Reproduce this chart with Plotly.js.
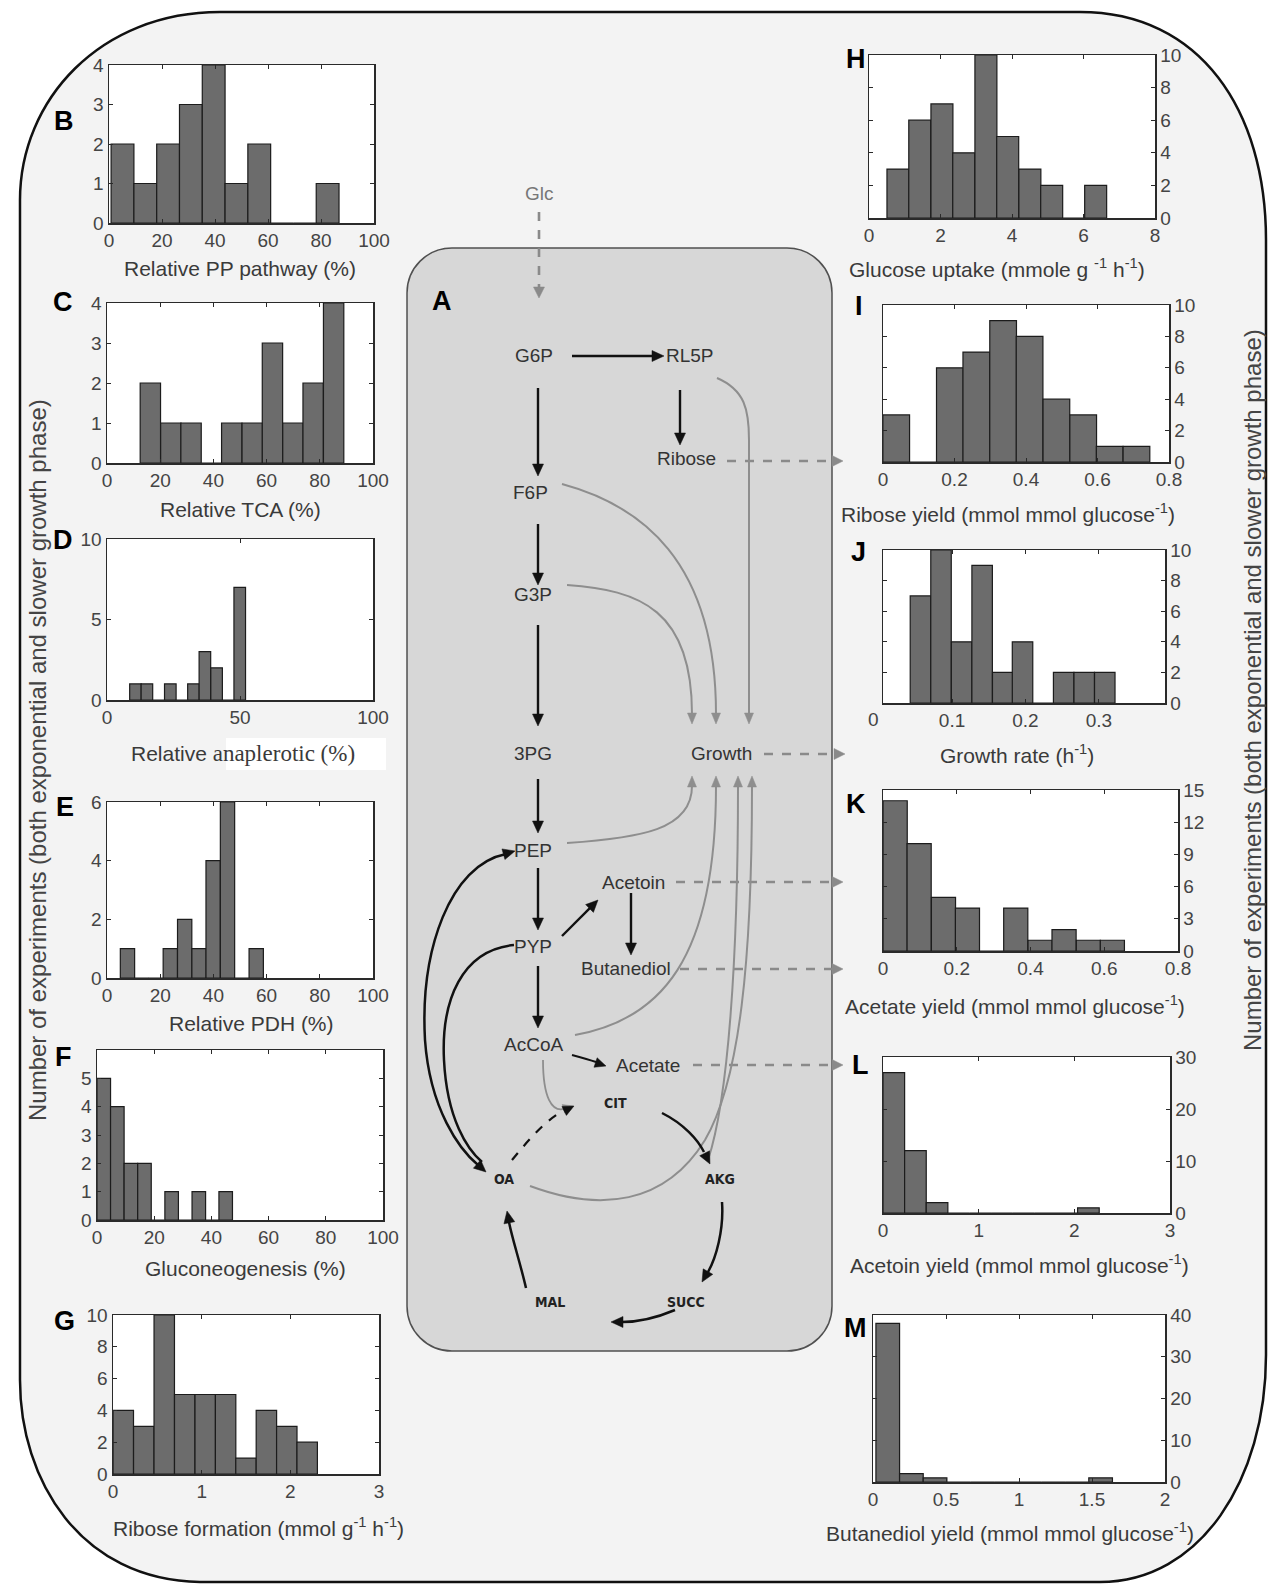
<!DOCTYPE html>
<html><head><meta charset="utf-8">
<script src="https://cdn.plot.ly/plotly-3.0.1.min.js"></script>
<style>html,body{margin:0;padding:0;background:#fff;overflow:hidden}#chart{width:1276px;height:1587px}</style>
</head><body><div id="chart"></div>
<script>
// ---------------- DATA (bin centres and counts) ----------------
const ppCenters   = [5.1, 13.7, 22.3, 30.9, 39.5, 48.1, 56.7, 65.3, 73.9, 82.5];
const ppCounts    = [2, 1, 2, 3, 4, 1, 2, 0, 0, 1];
const tcaCenters  = [16.3, 24.0, 31.6, 39.3, 46.9, 54.6, 62.2, 69.9, 77.5, 85.2];
const tcaCounts   = [2, 1, 1, 0, 1, 1, 3, 1, 2, 4];
const anaCenters  = [10.7, 15.0, 19.4, 23.8, 28.1, 32.5, 36.8, 41.2, 45.6, 49.9];
const anaCounts   = [1, 1, 0, 1, 0, 1, 3, 2, 0, 7];
const pdhCenters  = [7.7, 13.1, 18.4, 23.8, 29.2, 34.6, 39.9, 45.3, 50.7, 56.1];
const pdhCounts   = [1, 0, 0, 1, 2, 1, 4, 6, 0, 1];
const gngCenters  = [2.37, 7.11, 11.85, 16.6, 21.3, 26.1, 30.8, 35.6, 40.3, 45.0];
const gngCounts   = [5, 4, 2, 2, 0, 1, 0, 1, 0, 1];
const ribFormCenters = [0.116, 0.347, 0.578, 0.809, 1.04, 1.27, 1.50, 1.73, 1.96, 2.19];
const ribFormCounts  = [4, 3, 10, 5, 5, 5, 1, 4, 3, 2];
const glcCenters  = [0.81, 1.42, 2.04, 2.65, 3.27, 3.88, 4.50, 5.11, 5.73, 6.34];
const glcCounts   = [3, 6, 7, 4, 10, 5, 3, 2, 0, 2];
const ribYCenters = [0.037, 0.112, 0.187, 0.261, 0.336, 0.410, 0.485, 0.560, 0.634, 0.709];
const ribYCounts  = [3, 0, 6, 7, 9, 8, 4, 3, 1, 1];
const muCenters   = [0.057, 0.085, 0.113, 0.141, 0.169, 0.196, 0.224, 0.252, 0.280, 0.308];
const muCounts    = [7, 10, 4, 9, 2, 4, 0, 2, 2, 2];
const acetCenters = [0.033, 0.098, 0.164, 0.229, 0.295, 0.360, 0.426, 0.491, 0.557, 0.622];
const acetCounts  = [14, 10, 5, 4, 0, 4, 1, 2, 1, 1];
const actnCenters = [0.113, 0.339, 0.565, 0.791, 1.017, 1.243, 1.469, 1.695, 1.921, 2.147];
const actnCounts  = [27, 12, 2, 0, 0, 0, 0, 0, 0, 1];
const btdCenters  = [0.101, 0.263, 0.425, 0.587, 0.749, 0.911, 1.073, 1.235, 1.397, 1.559];
const btdCounts   = [38, 2, 1, 0, 0, 0, 0, 0, 0, 1];

const panelLetters = ['B','C','D','E','F','G','H','I','J','K','L','M'];
const xTitles = [
  'Relative PP pathway (%)',
  'Relative TCA (%)',
  'Relative <span style="font-family:Liberation Serif;font-size:23px">anaplerotic (%)</span>',
  'Relative PDH (%)',
  'Gluconeogenesis (%)',
  'Ribose formation (mmol g<sup>-1</sup> h<sup>-1</sup>)',
  'Glucose uptake (mmole g <sup>-1</sup> h<sup>-1</sup>)',
  'Ribose yield (mmol mmol glucose<sup>-1</sup>)',
  'Growth rate (h<sup>-1</sup>)',
  'Acetate yield (mmol mmol glucose<sup>-1</sup>)',
  'Acetoin yield (mmol mmol glucose<sup>-1</sup>)',
  'Butanediol yield (mmol mmol glucose<sup>-1</sup>)'
];
const xTickVals = [
  [0,20,40,60,80,100],[0,20,40,60,80,100],[0,50,100],[0,20,40,60,80,100],[0,20,40,60,80,100],[0,1,2,3],
  [0,2,4,6,8],[0,0.2,0.4,0.6,0.8],[0.1,0.2,0.3],[0,0.2,0.4,0.6,0.8],[0,1,2,3],[0,0.5,1,1.5,2]
];
const xRanges = [[0,100],[0,100],[0,100],[0,100],[0,100],[0,3],[0,8],[0,0.8],[0.006,0.39],[0,0.8],[0,3],[0,2]];
const yTickVals = [
  [0,1,2,3,4],[0,1,2,3,4],[0,5,10],[0,2,4,6],[0,1,2,3,4,5],[0,2,4,6,8,10],
  [0,2,4,6,8,10],[0,2,4,6,8,10],[0,2,4,6,8,10],[0,3,6,9,12,15],[0,10,20,30],[0,10,20,30,40]
];
const yRanges = [[0,4],[0,4],[0,10],[0,6],[0,6],[0,10],[0,10],[0,10],[0,10],[0,15],[0,30],[0,40]];
const yAxisTitle = 'Number of experiments (both exponential and slower growth phase)';

const seriesCenters = [ppCenters,tcaCenters,anaCenters,pdhCenters,gngCenters,ribFormCenters,
                       glcCenters,ribYCenters,muCenters,acetCenters,actnCenters,btdCenters];
const seriesCounts  = [ppCounts,tcaCounts,anaCounts,pdhCounts,gngCounts,ribFormCounts,
                       glcCounts,ribYCounts,muCounts,acetCounts,actnCounts,btdCounts];

// ---------------- LAYOUT GEOMETRY (page pixels) ----------------
const W = 1276, H = 1587;
const FONT = 'Liberation Sans, Arial, sans-serif';
const X = px => px / W;
const Y = py => 1 - py / H;
const boxes = [
  [109,374,65,223],[107,373,303,463],[107,373,539,700],[107,373,802,978],[97,383,1050,1220],[113,379,1315,1474],
  [869,1155,55,218],[883,1169,305,462],[883,1165,550,703],[883,1178,790,951],[883,1170,1057,1213],[873,1165,1315,1482]
];
const titlePos = [[240,268],[240,509],[243,754],[251,1023],[245,1268],[258,1527],
                  [997,268],[1008,513],[1017,754],[1015,1005],[1020,1264],[1010,1532]];
const letterPos = [[64,121],[63,302],[63,540],[65,807],[63,1057],[64,1321],
                   [856,59],[859,306],[858,552],[856,804],[860,1065],[855,1328]];

function conv(str) {
  const t = str.trim().split(/[\s,]+/);
  const out = []; let i = 0;
  while (i < t.length) {
    if (/^[A-Za-z]$/.test(t[i])) { out.push(t[i]); i++; }
    else { out.push(X(+t[i]).toFixed(5) + ',' + Y(+t[i+1]).toFixed(5)); i += 2; }
  }
  return out.join(' ');
}

const traces = [];
const layout = {
  width: W, height: H, margin: {l:0,r:0,t:0,b:0},
  paper_bgcolor: '#ffffff', plot_bgcolor: 'rgba(0,0,0,0)',
  showlegend: false, bargap: 0, font: {family: FONT, color: '#333'},
  shapes: [], annotations: []
};
function text(txt, x, y, size, color, family, angle) {
  layout.annotations.push({xref:'paper', yref:'paper', x:X(x), y:Y(y), xanchor:'center', yanchor:'middle',
    text:txt, showarrow:false, textangle: angle || 0,
    font:{family:family || FONT, size:size || 19, color:color || '#333'}});
}

// background frame
layout.shapes.push({type:'path', xref:'paper', yref:'paper', layer:'below',
  path: conv('M 220 12 L 1080 12 C 1200 12 1266 110 1266 240 L 1266 1355 C 1266 1480 1200 1582 1100 1582 L 200 1582 C 80 1580 20 1480 20 1380 L 20 200 C 20 100 100 12 220 12 Z'),
  fillcolor:'#f3f3f3', line:{color:'#111', width:2.5}});
// central box
layout.shapes.push({type:'path', xref:'paper', yref:'paper', layer:'below',
  path: conv('M 452 248 L 787 248 C 812 248 832 268 832 293 L 832 1306 C 832 1331 812 1351 787 1351 L 452 1351 C 427 1351 407 1331 407 1306 L 407 293 C 407 268 427 248 452 248 Z'),
  fillcolor:'#d7d7d7', line:{color:'#505050', width:1.5}});
// white area behind "anaplerotic (%)"
layout.shapes.push({type:'rect', xref:'paper', yref:'paper', layer:'below',
  x0:X(226), x1:X(386), y0:Y(770), y1:Y(738), fillcolor:'#ffffff', line:{width:0}});

seriesCenters.forEach((c, i) => {
  const s = i === 0 ? '' : String(i + 1);
  const b = boxes[i];
  const right = i >= 6;
  const w = (c[c.length-1] - c[0]) / (c.length - 1);
  traces.push({type:'bar', x:c, y:seriesCounts[i], width:c.map(() => w),
    xaxis:'x'+s, yaxis:'y'+s, hoverinfo:'skip',
    marker:{color:'#6c6c6c', line:{color:'#1c1c1c', width:1.2}}});
  layout.shapes.push({type:'rect', xref:'paper', yref:'paper', layer:'below',
    x0:X(b[0]), x1:X(b[1]), y0:Y(b[3]), y1:Y(b[2]), fillcolor:'#ffffff', line:{width:0}});
  const common = {showline:true, mirror:'ticks', linecolor:'#2a2a2a', linewidth:1.5, ticks:'inside',
    ticklen:4, tickcolor:'#2a2a2a', showgrid:false, zeroline:false, fixedrange:true,
    tickfont:{family:FONT, size:19, color:'#444'}};
  layout['xaxis'+s] = Object.assign({}, common, {domain:[X(b[0]), X(b[1])], anchor:'y'+s,
    range:xRanges[i], tickvals:xTickVals[i], tickmode:'array'});
  layout['yaxis'+s] = Object.assign({}, common, {domain:[Y(b[3]), Y(b[2])], anchor:'x'+s,
    range:yRanges[i], tickvals:yTickVals[i], tickmode:'array', side: right ? 'right' : 'left'});
  text(xTitles[i], titlePos[i][0], titlePos[i][1], 21, '#3a3a3a');
  text('<b>'+panelLetters[i]+'</b>', letterPos[i][0], letterPos[i][1], 27, '#000');
});
// growth-rate axis origin label sits just left of its box
text('0', 873, 719, 19, '#444');

// y-axis side titles
text(yAxisTitle, 37, 760, 24, '#444', FONT, -90);
text(yAxisTitle, 1253, 690, 24, '#444', FONT, -90);

// ---------------- PATHWAY DIAGRAM (panel A) ----------------
function head(tipX, tipY, fromX, fromY, color, len, hw) {
  const dx = tipX - fromX, dy = tipY - fromY, L = Math.hypot(dx, dy) || 1;
  const ux = dx / L, uy = dy / L;
  const bx = tipX - ux * len, by = tipY - uy * len;
  const p = 'M ' + tipX + ' ' + tipY + ' L ' + (bx - uy * hw) + ' ' + (by + ux * hw) +
            ' L ' + (bx + uy * hw) + ' ' + (by - ux * hw) + ' Z';
  layout.shapes.push({type:'path', xref:'paper', yref:'paper', layer:'above', path:conv(p),
    fillcolor:color, line:{color:color, width:0.5}});
}
function curve(p, color, width, dash) {
  layout.shapes.push({type:'path', xref:'paper', yref:'paper', layer:'above', path:conv(p),
    line:{color:color, width:width, dash:dash || 'solid'}});
}
function straight(x0, y0, x1, y1) {
  const L = Math.hypot(x1 - x0, y1 - y0);
  const ex = x1 - (x1 - x0) / L * 8, ey = y1 - (y1 - y0) / L * 8;
  curve('M '+x0+' '+y0+' L '+ex+' '+ey, '#111', 2.4);
  head(x1, y1, x0, y0, '#111', 12, 5.5);
}
function dashedArrow(x0, y0, x1, y1) {
  const L = Math.hypot(x1 - x0, y1 - y0);
  const ex = x1 - (x1 - x0) / L * 8, ey = y1 - (y1 - y0) / L * 8;
  curve('M '+x0+' '+y0+' L '+ex+' '+ey, '#8a8a8a', 2.6, 'dash');
  head(x1, y1, x0, y0, '#8a8a8a', 11, 5.5);
}

text('<b>A</b>', 442, 301, 27, '#000');
text('Glc', 539, 194, 19, '#777');
text('G6P', 534, 356); text('RL5P', 690, 356); text('Ribose', 687, 458);
text('F6P', 530, 493); text('G3P', 533, 594); text('3PG', 533, 754);
text('Growth', 721, 754); text('PEP', 533, 850); text('Acetoin', 633, 882);
text('PYP', 533, 946); text('Butanediol', 626, 968); text('AcCoA', 533, 1044);
text('Acetate', 648, 1065);
const SMALL = 'DejaVu Sans Condensed, DejaVu Sans, sans-serif';
text('<b>CIT</b>', 615, 1103, 14, '#222', SMALL); text('<b>OA</b>', 504, 1179, 14, '#222', SMALL);
text('<b>AKG</b>', 720, 1179, 14, '#222', SMALL); text('<b>MAL</b>', 550, 1302, 14, '#222', SMALL);
text('<b>SUCC</b>', 686, 1302, 14, '#222', SMALL);

// dashed grey arrows
dashedArrow(539, 212, 539, 298);
dashedArrow(727, 461, 843, 461);
dashedArrow(764, 754, 845, 754);
dashedArrow(676, 882, 843, 882);
dashedArrow(680, 969, 843, 969);
dashedArrow(693, 1065, 843, 1065);

// black straight arrows
straight(572, 356, 664, 356);
straight(680, 390, 680, 445);
straight(538, 388, 538, 476);
straight(538, 524, 538, 585);
straight(538, 625, 538, 726);
straight(538, 779, 538, 833);
straight(538, 868, 538, 930);
straight(538, 966, 538, 1028);
straight(562, 936, 598, 900);
straight(631, 893, 631, 955);

// grey curves to Growth
const G = '#8e8e8e';
curve('M 717 378 C 745 390 749 410 749 440 L 749 714', G, 2); head(749, 724, 749, 700, G, 11, 4.5);
curve('M 562 484 C 640 505 716 560 716 714', G, 2); head(716, 724, 716, 700, G, 11, 4.5);
curve('M 567 585 C 640 590 692 610 692 714', G, 2); head(692, 724, 692, 700, G, 11, 4.5);
curve('M 567 843 C 640 838 692 830 692 786', G, 2); head(692, 776, 692, 800, G, 11, 4.5);
curve('M 575 1035 C 660 1020 716 960 716 786', G, 2); head(716, 776, 716, 800, G, 11, 4.5);
curve('M 708 1160 C 728 1100 738 960 738 786', G, 2); head(738, 776, 738, 800, G, 11, 4.5);
curve('M 530 1186 C 600 1212 665 1205 705 1140 C 740 1080 752 960 752 786', G, 2); head(752, 776, 752, 800, G, 11, 4.5);
curve('M 543 1060 C 543 1098 552 1112 564 1109', G, 1.8); head(573, 1106, 556, 1111, G, 10, 4.5);

// black cycle / anaplerotic curves
const K = '#111';
curve('M 506 854 C 450 865 420 950 425 1040 C 430 1110 460 1150 478 1165', K, 2.5);
head(515, 851, 490, 858, K, 12, 5.5); head(486, 1172, 468, 1156, K, 12, 5.5);
curve('M 514 945 C 462 950 441 1000 444 1060 C 447 1120 468 1150 482 1162', K, 2.5);
curve('M 512 1160 C 530 1138 548 1118 565 1110', K, 2.2, 'dash'); head(574, 1106, 560, 1113, K, 11, 5);
curve('M 662 1113 C 684 1124 698 1140 704 1152', K, 2.5); head(710, 1164, 702, 1148, K, 12, 5.5);
curve('M 722 1202 C 724 1230 716 1258 708 1272', K, 2.5); head(702, 1282, 710, 1268, K, 12, 5.5);
curve('M 675 1310 C 656 1318 636 1322 622 1322', K, 2.5); head(611, 1322, 626, 1322, K, 12, 5.5);
curve('M 526 1288 C 520 1262 512 1238 509 1222', K, 2.5); head(507, 1211, 510, 1226, K, 12, 5.5);
curve('M 572 1055 C 583 1058 590 1060 596 1062', K, 2); head(606, 1066, 594, 1062, K, 11, 5);

Plotly.newPlot('chart', traces, layout, {staticPlot:true, displayModeBar:false});
</script>
</body></html>
